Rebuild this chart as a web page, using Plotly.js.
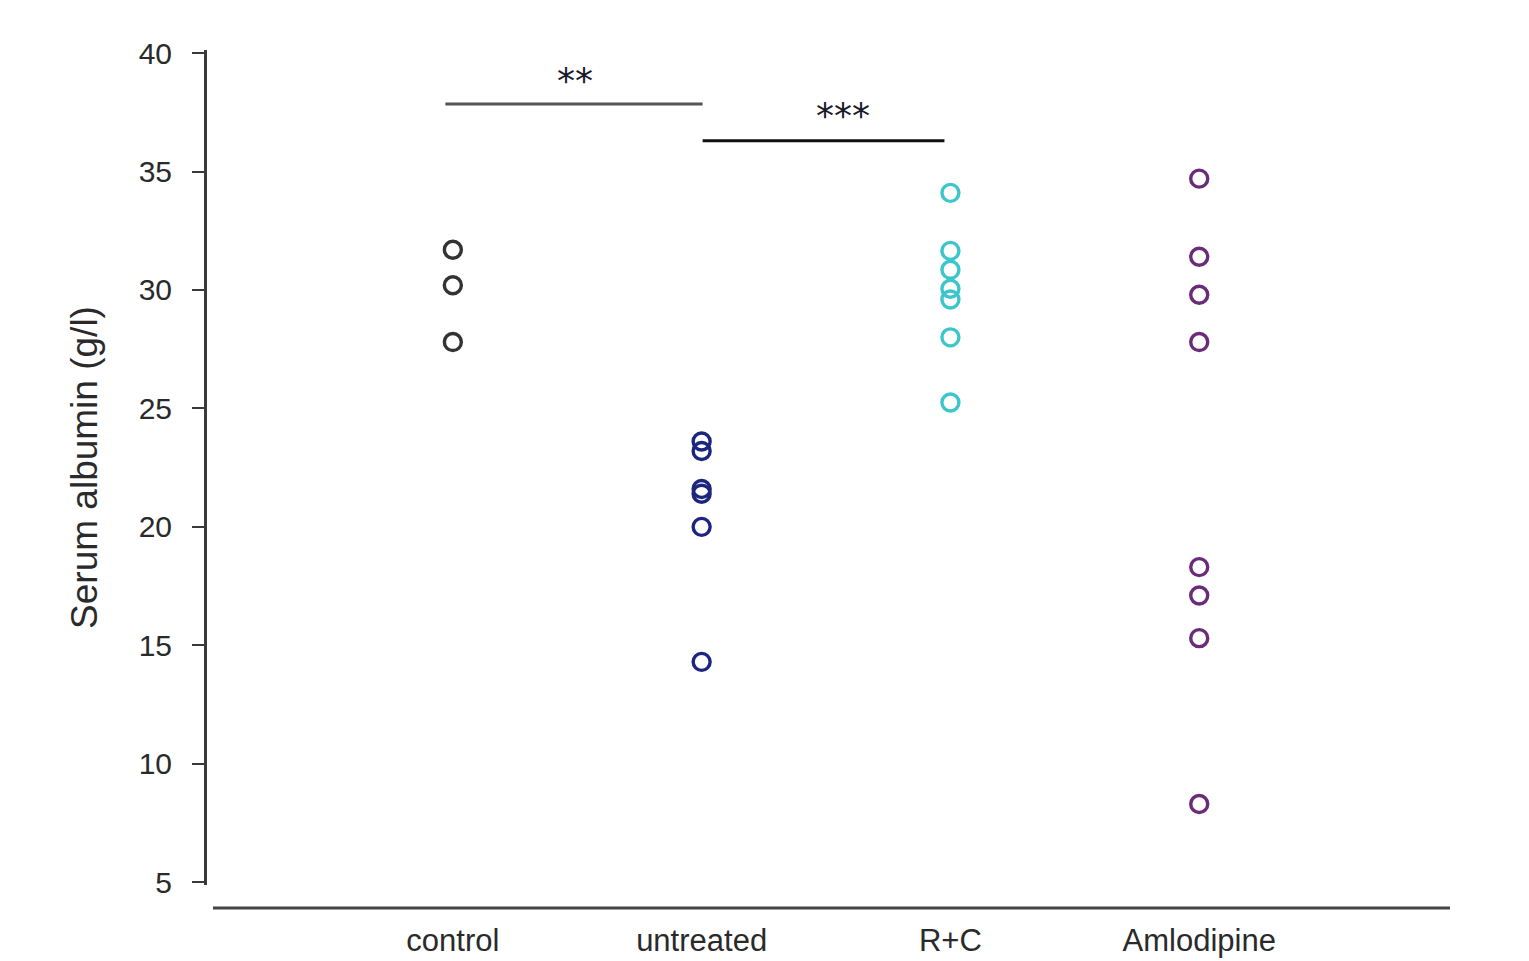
<!DOCTYPE html>
<html>
<head>
<meta charset="utf-8">
<script src="https://cdn.plot.ly/plotly-3.0.1.min.js"></script>
<style>html,body{margin:0;padding:0;background:#fff;}#chart{width:1529px;height:961px;}</style>
</head>
<body>
<div id="chart"></div>
<script>
var categories = ["control", "untreated", "R+C", "Amlodipine"];
var controlVals = [31.7, 30.2, 27.8];
var untreatedVals = [23.6, 23.2, 21.6, 21.4, 20.0, 14.3];
var rcVals = [34.1, 31.65, 30.85, 30.05, 29.6, 28.0, 25.25];
var amlodipineVals = [34.7, 31.4, 29.8, 27.8, 18.3, 17.1, 15.3, 8.3];
var seriesColors = ["#333333", "#1c2580", "#3cc6cc", "#6a2c78"];
var yTicks = [5, 10, 15, 20, 25, 30, 35, 40];
var sigFrom = ["control", "untreated"];
var sigTo = ["untreated", "R+C"];
var sigLabels = ["**", "***"];
var sigLevels = [37.85, 36.3];
var sigLabelLevels = [38.85, 37.35];

var allVals = [controlVals, untreatedVals, rcVals, amlodipineVals];
var traces = allVals.map(function (vals, i) {
  return {
    type: "scatter",
    mode: "markers",
    x: vals.map(function () { return categories[i]; }),
    y: vals,
    marker: {symbol: "circle-open", size: 17, color: seriesColors[i], line: {width: 3.4, color: seriesColors[i]}},
    showlegend: false,
    hoverinfo: "y"
  };
});

var shapes = [
  {type: "line", xref: "paper", yref: "paper", x0: 8/1245, x1: 1, y0: -23/835, y1: -23/835,
   line: {color: "#444", width: 3}}
];
var annotations = [];
var sigColors = ["#555555", "#111111"];
var catIdx = function (c) { return categories.indexOf(c); };
for (var k = 0; k < sigLabels.length; k++) {
  var a = catIdx(sigFrom[k]), b = catIdx(sigTo[k]);
  var x0 = a - (k === 0 ? 0.03 : -0.004), x1 = b + (k === 0 ? 0.004 : -0.024);
  shapes.push({type: "line", xref: "x", yref: "y", x0: x0, x1: x1, y0: sigLevels[k], y1: sigLevels[k],
    line: {color: sigColors[k], width: 3}});
  annotations.push({xref: "x", yref: "y", x: (a + b) / 2 + (k === 0 ? -0.01 : 0.07), y: sigLabelLevels[k],
    text: sigLabels[k], showarrow: false, yanchor: "middle",
    font: {family: "DejaVu Sans, sans-serif", size: 36, color: "#1a1a2a"}});
}

var layout = {
  width: 1529, height: 961,
  margin: {l: 205, r: 79, t: 50, b: 76},
  paper_bgcolor: "#fff", plot_bgcolor: "#fff",
  font: {family: "Liberation Sans, Arial, sans-serif", color: "#2a2a2a"},
  xaxis: {
    type: "category", categoryorder: "array", categoryarray: categories,
    range: [-0.964, 4.008], domain: [8/1245, 1],
    showline: false, showgrid: false, zeroline: false,
    ticks: "outside", ticklen: 28, tickcolor: "rgba(0,0,0,0)",
    tickfont: {size: 31, color: "#2a2a2a"}
  },
  yaxis: {
    range: [4.88, 40.13], anchor: "free", position: 0,
    tickvals: yTicks, ticktext: yTicks.map(String),
    showline: true, linecolor: "#3a3a3a", linewidth: 3,
    ticks: "outside", ticklen: 12, tickwidth: 2, tickcolor: "#3a3a3a",
    ticklabelstandoff: 14,
    showgrid: false, zeroline: false,
    tickfont: {size: 30, color: "#2a2a2a"},
    title: {text: "Serum albumin (g/l)", font: {size: 37, color: "#2a2a2a"}, standoff: 28}
  },
  shapes: shapes,
  annotations: annotations
};

Plotly.newPlot("chart", traces, layout, {displayModeBar: false});
</script>
</body>
</html>
